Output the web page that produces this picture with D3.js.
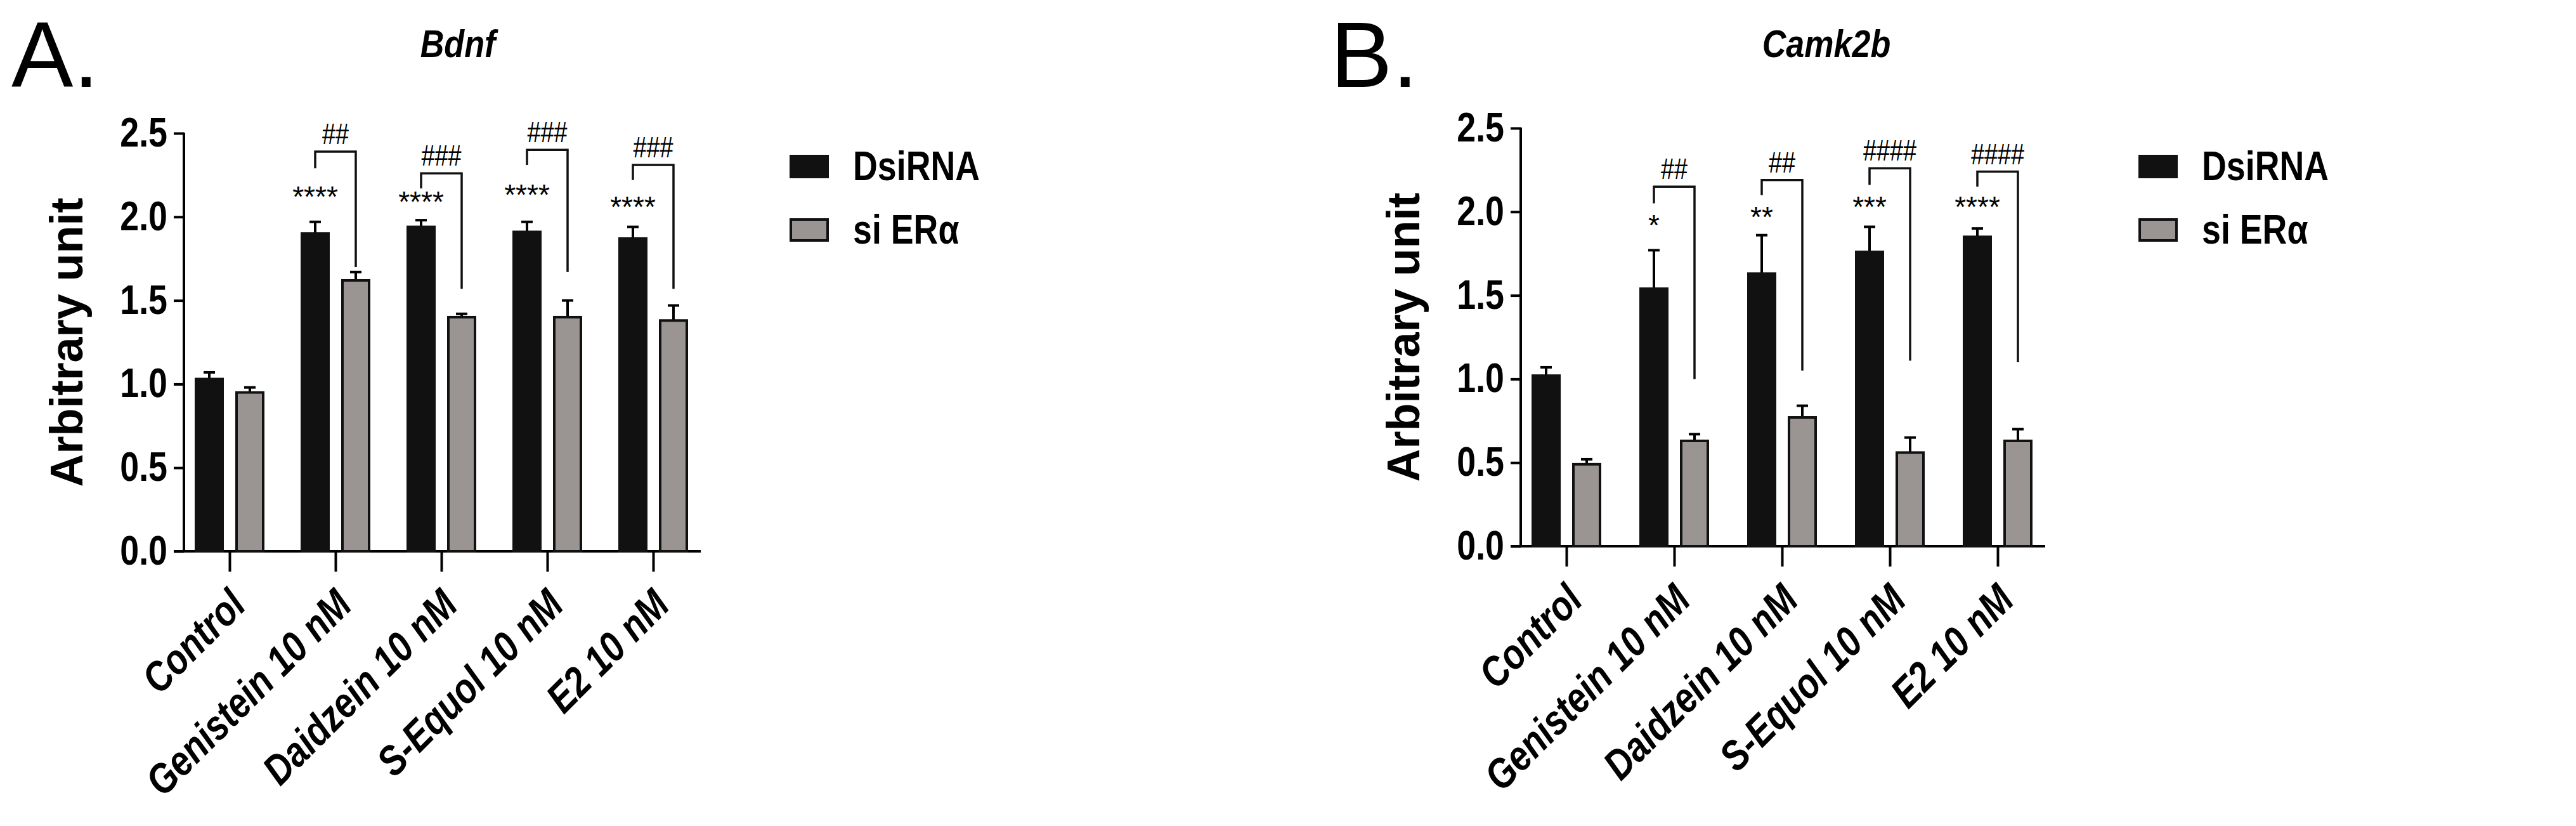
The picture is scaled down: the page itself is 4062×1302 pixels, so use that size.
<!DOCTYPE html>
<html><head><meta charset="utf-8">
<script src="https://cdn.jsdelivr.net/npm/d3@7"></script>
<style>
body{margin:0;background:#fff;}
text{font-family:"Liberation Sans",Arial,sans-serif;}
</style></head>
<body><svg id="fig" width="4062" height="1302"></svg>
<script>
var categories = ["Control","Genistein 10 nM","Daidzein 10 nM","S-Equol 10 nM","E2 10 nM"];
var seriesNames = ["DsiRNA","si ER\u03b1"];
var yTicks = [0,0.5,1.0,1.5,2.0,2.5];

// panel A - Bdnf
var bdnfDsi = [1.03,1.90,1.94,1.91,1.87], bdnfDsiErr = [1.07,1.97,1.98,1.97,1.94];
var bdnfSi = [0.95,1.62,1.40,1.40,1.38], bdnfSiErr = [0.98,1.67,1.42,1.50,1.47];
var bdnfStars = ["","****","****","****","****"], bdnfStarY = [0,2.06,2.03,2.07,2.00];
var bdnfHash = ["","##","###","###","###"];
var bdnfBrTop = [0,2.39,2.26,2.40,2.31], bdnfBrLeft = [0,2.29,2.17,2.31,2.22], bdnfBrRight = [0,1.70,1.57,1.67,1.57];

// panel B - Camk2b
var camDsi = [1.02,1.54,1.63,1.76,1.85], camDsiErr = [1.07,1.77,1.86,1.91,1.90];
var camSi = [0.49,0.63,0.77,0.56,0.63], camSiErr = [0.52,0.67,0.84,0.65,0.70];
var camStars = ["","*","**","***","****"], camStarY = [0,1.86,1.91,1.97,1.97];
var camHash = ["","##","##","####","####"];
var camBrTop = [0,2.15,2.19,2.26,2.24], camBrLeft = [0,2.05,2.10,2.16,2.15], camBrRight = [0,1.00,1.05,1.11,1.10];

var svg = d3.select("#fig");
var colors = ["#111111","#9a9592"];
var sq = 0.84; // horizontal squeeze to mimic a condensed bold face

function panel(o){
  var g = svg.append("g");
  var x = d3.scalePoint().domain(categories).range([o.x0+72, o.x0+72+4*o.step]);
  var y = d3.scaleLinear().domain([0,2.5]).range([o.yb, o.yt]);
  var bw = 42, off = 32;

  g.append("text").attr("x",o.lx).attr("y",137).attr("font-size",146).text(o.letter);
  g.append("text").attr("transform","translate("+o.tx+",90) scale("+sq+",1)")
    .attr("font-size",62).attr("font-weight","bold")
    .attr("font-style","italic").attr("text-anchor","middle").text(o.title);

  // y axis
  var ay = g.append("g").attr("transform","translate("+o.x0+",0)")
    .call(d3.axisLeft(y).tickValues(yTicks).tickFormat(d3.format(".1f")).tickSize(16).tickPadding(8));
  ay.select(".domain").attr("stroke-width",4).attr("d","M0,"+o.yb+"V"+(o.yt-1));
  ay.selectAll(".tick line").attr("stroke-width",4);
  ay.selectAll("text").attr("font-size",64).attr("font-weight","bold")
    .attr("x",-26/sq).attr("transform","scale("+sq+",1)");

  // x axis
  var xEnd = o.x0 + 72 + 4*o.step + 75;
  g.append("line").attr("x1",o.x0-16).attr("x2",xEnd).attr("y1",o.yb).attr("y2",o.yb)
    .attr("stroke","#000").attr("stroke-width",4);
  var ax = g.append("g").attr("transform","translate(0,"+o.yb+")")
    .call(d3.axisBottom(x).tickSize(32).tickPadding(20));
  ax.select(".domain").remove();
  ax.selectAll(".tick line").attr("stroke-width",4);
  ax.selectAll("text").attr("font-size",66).attr("font-weight","bold").attr("font-style","italic")
    .attr("text-anchor","end").attr("dy","0.35em").attr("y",0)
    .attr("transform","translate(12,72) rotate(-45) scale("+sq+",1)");

  g.append("text").attr("transform","translate("+(o.x0-160)+","+((o.yb+o.yt)/2)+") rotate(-90)")
    .attr("text-anchor","middle").attr("font-size",72).attr("font-weight","bold").text("Arbitrary unit");

  var sets = [[o.dsi,o.dsiErr],[o.si,o.siErr]];
  sets.forEach(function(s,k){
    categories.forEach(function(c,i){
      var cx = x(c) + (k===0?-off:off);
      g.append("line").attr("x1",cx).attr("x2",cx).attr("y1",y(s[0][i])).attr("y2",y(s[1][i]))
        .attr("stroke","#000").attr("stroke-width",4);
      g.append("line").attr("x1",cx-9).attr("x2",cx+9).attr("y1",y(s[1][i])).attr("y2",y(s[1][i]))
        .attr("stroke","#000").attr("stroke-width",4);
      g.append("rect").attr("x",cx-bw/2).attr("width",bw).attr("y",y(s[0][i]))
        .attr("height",o.yb-y(s[0][i])).attr("fill",colors[k]).attr("stroke","#111").attr("stroke-width",4);
    });
  });

  categories.forEach(function(c,i){
    if(!o.stars[i]) return;
    var xl = x(c)-off, xr = x(c)+off;
    g.append("text").attr("x",xl).attr("y",y(o.starY[i])).attr("text-anchor","middle")
      .attr("font-size",46).text(o.stars[i]);
    g.append("path").attr("fill","none").attr("stroke","#111").attr("stroke-width",3.5)
      .attr("d","M"+xl+","+y(o.brLeft[i])+"V"+y(o.brTop[i])+"H"+xr+"V"+y(o.brRight[i]));
    g.append("text").attr("transform","translate("+((xl+xr)/2)+","+(y(o.brTop[i])-12)+") scale(0.9,1.1)")
      .attr("text-anchor","middle").attr("font-size",42).text(o.hash[i]);
  });

  seriesNames.forEach(function(n,k){
    var ly = 246 + k*100;
    g.append("rect").attr("x",o.legX).attr("y",ly).attr("width",58).attr("height",33)
      .attr("fill",colors[k]).attr("stroke","#111").attr("stroke-width",4);
    g.append("text").attr("transform","translate("+(o.legX+98)+","+(ly+38)+") scale("+sq+",1)")
      .attr("font-size",64).attr("font-weight","bold").text(n);
  });
}

panel({x0:290,step:167,yb:869,yt:210,letter:"A.",lx:18,title:"Bdnf",tx:722,legX:1247,
  dsi:bdnfDsi,dsiErr:bdnfDsiErr,si:bdnfSi,siErr:bdnfSiErr,stars:bdnfStars,starY:bdnfStarY,hash:bdnfHash,
  brTop:bdnfBrTop,brLeft:bdnfBrLeft,brRight:bdnfBrRight});
panel({x0:2398,step:170,yb:861,yt:202,letter:"B.",lx:2098,title:"Camk2b",tx:2880,legX:3374,
  dsi:camDsi,dsiErr:camDsiErr,si:camSi,siErr:camSiErr,stars:camStars,starY:camStarY,hash:camHash,
  brTop:camBrTop,brLeft:camBrLeft,brRight:camBrRight});
</script></body></html>
